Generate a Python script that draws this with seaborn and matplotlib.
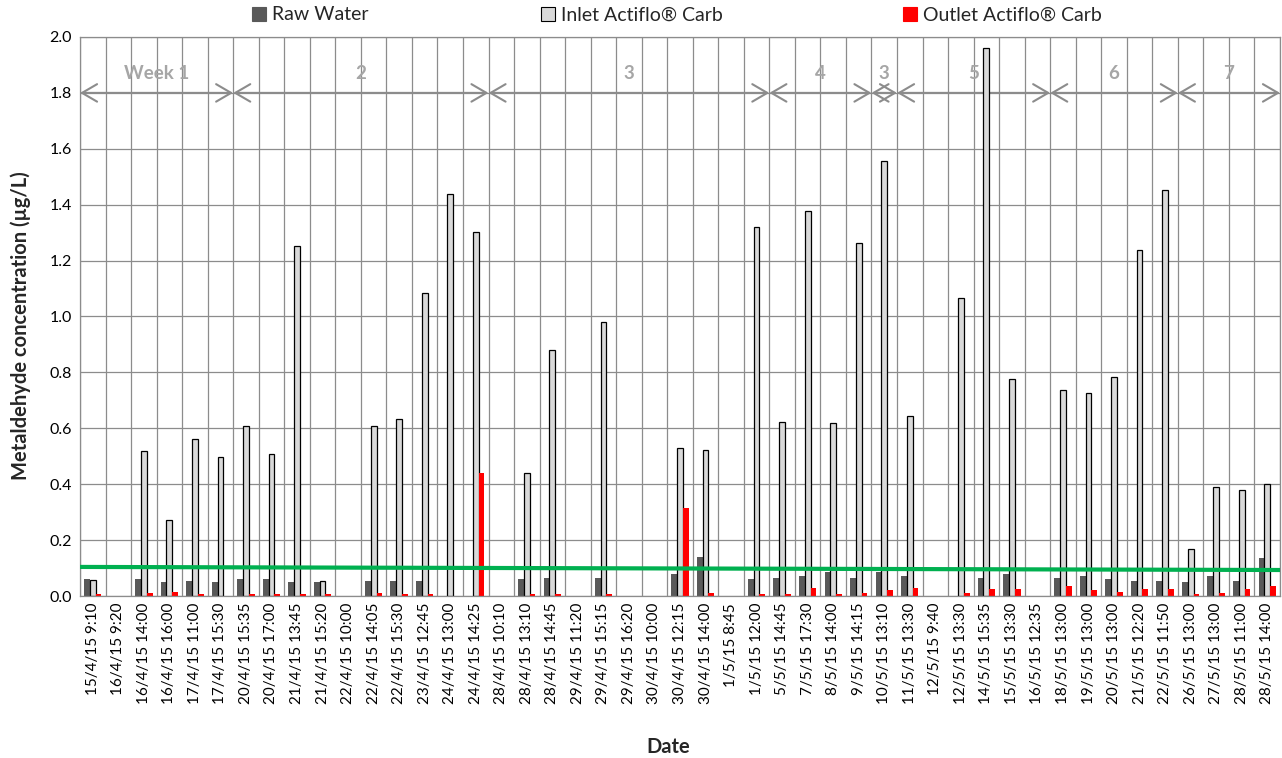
import numpy as np
import pandas as pd
import matplotlib
matplotlib.use("Agg")
import matplotlib.pyplot as plt
import seaborn as sns
from matplotlib.patches import Patch
from matplotlib.ticker import MultipleLocator, FormatStrFormatter

nan = np.nan

dates = [
    "15/4/15 9:10", "16/4/15 9:20", "16/4/15 14:00", "16/4/15 16:00", "17/4/15 11:00",
    "17/4/15 15:30", "20/4/15 15:35", "20/4/15 17:00", "21/4/15 13:45", "21/4/15 15:20",
    "22/4/15 10:00", "22/4/15 14:05", "22/4/15 15:30", "23/4/15 12:45", "24/4/15 13:00",
    "24/4/15 14:25", "28/4/15 10:10", "28/4/15 13:10", "28/4/15 14:45", "29/4/15 11:20",
    "29/4/15 15:15", "29/4/15 16:20", "30/4/15 10:00", "30/4/15 12:15", "30/4/15 14:00",
    "1/5/15 8:45", "1/5/15 12:00", "5/5/15 14:45", "7/5/15 17:30", "8/5/15 14:00",
    "9/5/15 14:15", "10/5/15 13:10", "11/5/15 13:30", "12/5/15 9:40", "12/5/15 13:30",
    "14/5/15 15:35", "15/5/15 13:30", "16/5/15 12:35", "18/5/15 13:00", "19/5/15 13:00",
    "20/5/15 13:00", "21/5/15 12:20", "22/5/15 11:50", "26/5/15 13:00", "27/5/15 13:00",
    "28/5/15 11:00", "28/5/15 14:00",
]

raw_water = [
    0.06, nan, 0.06, 0.05, 0.055, 0.05, 0.06, 0.06, 0.05, 0.05,
    nan, 0.055, 0.055, 0.055, nan, nan, nan, 0.06, 0.065, nan,
    0.065, nan, nan, 0.08, 0.14, nan, 0.06, 0.065, 0.07, 0.085,
    0.065, 0.085, 0.07, nan, nan, 0.065, 0.08, nan, 0.065, 0.07,
    0.06, 0.055, 0.055, 0.05, 0.07, 0.055, 0.135,
]

inlet_actiflo = [
    0.057, nan, 0.519, 0.273, 0.563, 0.498, 0.608, 0.509, 1.253, 0.053,
    nan, 0.608, 0.635, 1.084, 1.438, 1.303, nan, 0.44, 0.881, nan,
    0.980, nan, nan, 0.528, 0.523, nan, 1.322, 0.624, 1.377, 0.618,
    1.262, 1.556, 0.643, nan, 1.067, 1.959, 0.778, nan, 0.738, 0.728,
    0.783, 1.237, 1.451, 0.169, 0.389, 0.378, 0.399,
]

outlet_actiflo = [
    0.007, nan, 0.01, 0.016, 0.007, nan, 0.007, 0.007, 0.007, 0.007,
    nan, 0.012, 0.007, 0.007, nan, 0.44, nan, 0.007, 0.007, nan,
    0.007, nan, nan, 0.315, 0.01, nan, 0.007, 0.007, 0.03, 0.007,
    0.01, 0.02, 0.03, nan, 0.01, 0.025, 0.025, nan, 0.035, 0.02,
    0.016, 0.025, 0.025, 0.007, 0.01, 0.025, 0.035,
]

series_names = ["Raw Water", "Inlet Actiflo® Carb", "Outlet Actiflo® Carb"]
series_colors = ["#595959", "#D9D9D9", "#FF0000"]

week_labels = ["Week 1", "2", "3", "4", "3", "5", "6", "7"]
week_first = [0, 6, 16, 27, 31, 32, 38, 43]
week_last = [5, 15, 26, 30, 31, 37, 42, 46]
week_arrow_level = 1.8
week_label_level = 1.868

limit_line = [0.104, 0.093]

sns.set_style("white")
plt.rcParams["font.family"] = ["Lato", "DejaVu Sans"]

df = pd.DataFrame({
    "Date": dates * 3,
    "Series": sum([[s] * len(dates) for s in series_names], []),
    "Value": raw_water + inlet_actiflo + outlet_actiflo,
})

W, H = 1282, 758
fig = plt.figure(figsize=(W / 100, H / 100), dpi=100)
ax = fig.add_axes([80 / W, 1 - 596 / H, 1200 / W, 559 / H])

sns.barplot(data=df, x="Date", y="Value", hue="Series", order=dates,
            hue_order=series_names, palette=dict(zip(series_names, series_colors)),
            width=0.68, errorbar=None, saturation=1, legend=False, ax=ax, zorder=2)

for i, cont in enumerate(ax.containers):
    for bar in cont:
        if i == 1:
            bar.set_edgecolor("black")
            bar.set_linewidth(0.9)
        else:
            bar.set_linewidth(0)

ax.set_xlim(-0.5, len(dates) - 0.5)
ax.set_ylim(0, 2.0)
ax.yaxis.set_major_locator(MultipleLocator(0.2))
ax.yaxis.set_major_formatter(FormatStrFormatter("%.1f"))
ax.set_xticks(np.arange(len(dates) + 1) - 0.5, minor=True)
grid_c = "#8C8C8C"
ax.grid(axis="y", which="major", color=grid_c, lw=0.9)
ax.grid(axis="x", which="minor", color=grid_c, lw=0.9)
ax.grid(axis="x", which="major", visible=False)
ax.set_axisbelow(True)
ax.tick_params(axis="x", which="both", length=0, labelsize=11, pad=5, labelcolor="black")
ax.tick_params(axis="y", length=0, labelsize=11.5, pad=6, labelcolor="black")
plt.setp(ax.get_xticklabels(), rotation=90)
for sp in ax.spines.values():
    sp.set_color(grid_c)
    sp.set_linewidth(0.9)

# week annotations
for lab, a, b in zip(week_labels, week_first, week_last):
    ax.annotate("", xy=(b + 0.5, week_arrow_level), xytext=(a - 0.5, week_arrow_level),
                arrowprops=dict(arrowstyle="<->,head_length=0.6,head_width=0.35",
                                color="#8C8C8C", lw=1.5, shrinkA=0, shrinkB=0,
                                mutation_scale=18),
                zorder=1.5)
    ax.text((a + b) / 2, week_label_level, lab, ha="center", va="center",
            color="#A6A6A6", fontsize=13.5, fontweight="bold", zorder=1.5)

# limit line
ax.plot(ax.get_xlim(), limit_line, color="#00B050", lw=3, zorder=5,
        solid_capstyle="butt")

ax.set_xlabel("Date", fontsize=14.5, fontweight="bold")
ax.set_ylabel("Metaldehyde concentration (µg/L)", fontsize=14.5, fontweight="bold")
ax.xaxis.set_label_coords(0.49, -0.252)
ax.yaxis.set_label_coords(-0.041, 0.483)

# legend entries placed individually
legend_x = [252, 541, 903]
for name, col, lx in zip(series_names, series_colors, legend_x):
    h = Patch(facecolor=col, edgecolor="black" if col == "#D9D9D9" else col, lw=0.8)
    fig.legend(handles=[h], labels=[name], loc="center left",
               bbox_to_anchor=(lx / W, 1 - 15 / H), frameon=False,
               handlelength=0.7, handleheight=0.7, handletextpad=0.35,
               borderpad=0, borderaxespad=0, fontsize=14)

fig.savefig("out.png", dpi=100)
